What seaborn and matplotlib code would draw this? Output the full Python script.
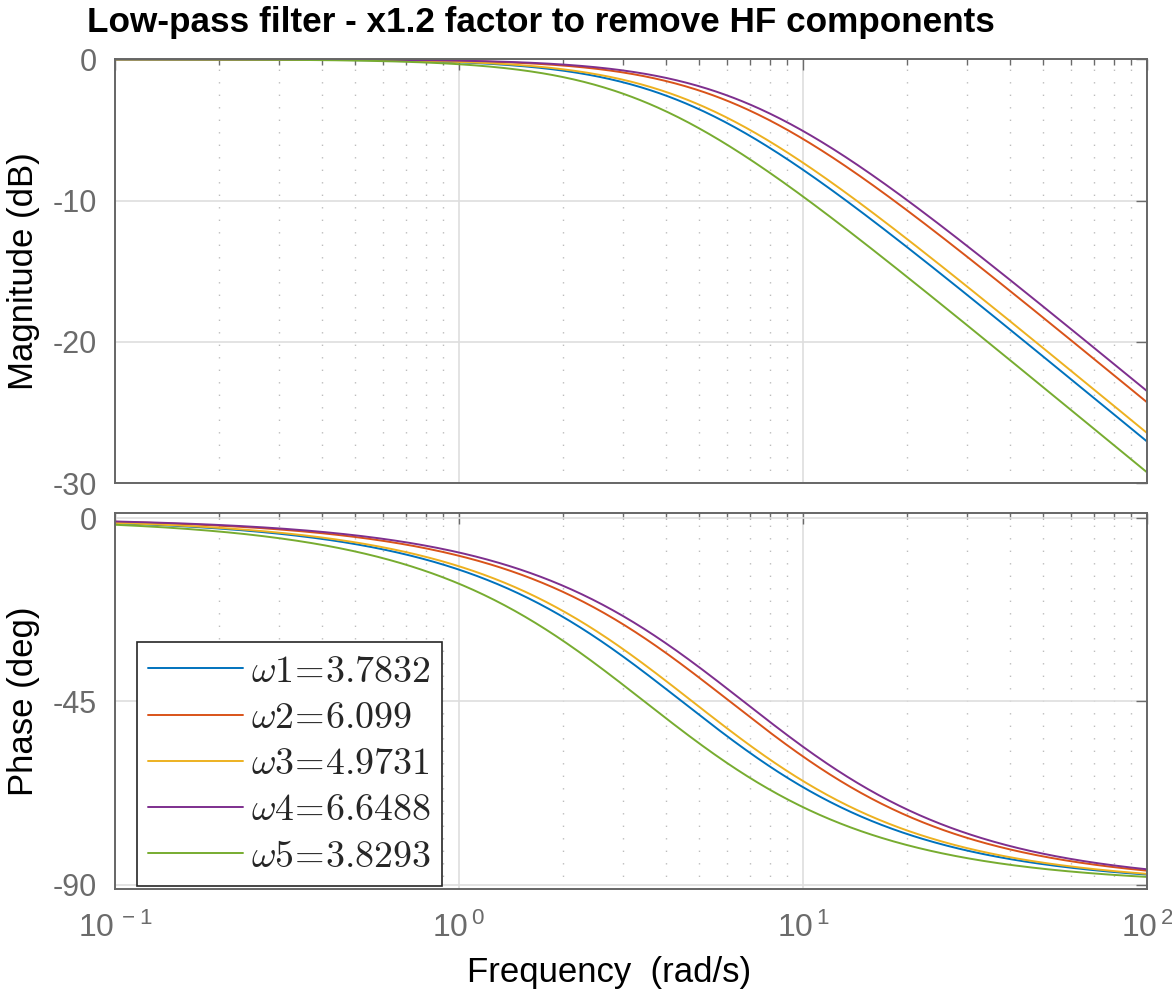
import numpy as np
import pandas as pd
import matplotlib
matplotlib.use("Agg")
import matplotlib.pyplot as plt
import seaborn as sns
from matplotlib.font_manager import FontProperties
from matplotlib.ticker import LogLocator, NullFormatter, FixedLocator, FuncFormatter

# ---- data ----
labels = [r"$\omega1\!=\!3.7832$", r"$\omega2\!=\!6.099$", r"$\omega3\!=\!4.9731$",
          r"$\omega4\!=\!6.6488$", r"$\omega5\!=\!3.8293$"]
corner_freqs = [4.45, 6.13, 4.77, 6.72, 3.46]
colors = ["#0072BD", "#D95319", "#EDB120", "#7E2F8E", "#77AC30"]
mag_ticks = [0, -10, -20, -30]
phase_ticks = [0, -45, -90]
freq_range = [0.1, 100.0]

# ---- build long table from first-order low-pass responses ----
w = np.logspace(np.log10(freq_range[0]), np.log10(freq_range[1]), 600)
rows = []
for lab, wc in zip(labels, corner_freqs):
    H = 1.0 / (1.0 + 1j * w / wc)
    rows.append(pd.DataFrame({"w": w,
                              "mag": 20 * np.log10(np.abs(H)),
                              "phase": np.degrees(np.angle(H)),
                              "series": lab}))
df = pd.concat(rows, ignore_index=True)

sns.set_theme(style="white")
plt.rcParams["font.family"] = ["Liberation Sans", "DejaVu Sans"]
plt.rcParams["axes.unicode_minus"] = False

fig = plt.figure(figsize=(11.72, 9.93), dpi=100)
W, Hh = 1172, 993
def axrect(l, r, t, b):
    return [l / W, 1 - b / Hh, (r - l) / W, (b - t) / Hh]

ax1 = fig.add_axes(axrect(115, 1147, 59.3, 483.3))
ax2 = fig.add_axes(axrect(115, 1147, 512.7, 889.3))

pal = dict(zip(labels, colors))
sns.lineplot(data=df, x="w", y="mag", hue="series", palette=pal, ax=ax1,
             linewidth=1.4, legend=False)
sns.lineplot(data=df, x="w", y="phase", hue="series", palette=pal, ax=ax2,
             linewidth=1.4, legend=True)

def pow_fmt(v, pos):
    e = int(round(np.log10(v)))
    return r"$\mathdefault{10^{\,%d}}$" % e

tick_gray = "#6b6b6b"
for ax in (ax1, ax2):
    ax.set_xscale("log")
    ax.set_xlim(*freq_range)
    ax.xaxis.set_major_locator(LogLocator(base=10, numticks=10))
    ax.xaxis.set_major_formatter(FuncFormatter(pow_fmt))
    ax.xaxis.set_minor_locator(LogLocator(base=10, subs=np.arange(2, 10), numticks=20))
    ax.xaxis.set_minor_formatter(NullFormatter())
    ax.grid(True, which="major", color="#dedede", linewidth=1.2, linestyle="-")
    ax.grid(True, which="minor", axis="x", color="#bdbdbd", linewidth=1.0,
            linestyle=(0, (1, 8)))
    ax.tick_params(which="both", direction="in", top=True, right=True,
                   colors=tick_gray, labelsize=22, pad=10)
    ax.tick_params(axis="y", which="major", pad=13)
    ax.tick_params(which="major", length=8, width=1.0)
    ax.tick_params(which="minor", length=4.5, width=1.0)
    for s in ax.spines.values():
        s.set_color("#666666")
        s.set_linewidth(1.4)
    ax.set_axisbelow(True)

ax1.set_ylim(-30, 0)
ax1.yaxis.set_major_locator(FixedLocator(mag_ticks))
ax1.set_xticklabels([])
ax1.set_xlabel("")
ax1.set_ylabel("Magnitude (dB)", fontsize=25, color="black", labelpad=9)

ax2.set_ylim(-91.06, 1.3)
ax2.yaxis.set_major_locator(FixedLocator(phase_ticks))
ax2.set_ylabel("Phase (deg)", fontsize=25, color="black", labelpad=9)
ax2.set_xlabel("Frequency  (rad/s)", fontsize=25, color="black")
ax2.xaxis.set_label_coords(0.479, -0.178)
ax2.tick_params(axis="x", which="major", pad=17, labelsize=23)

leg_font = FontProperties(size=27.3, math_fontfamily="cm")
leg = ax2.legend(loc="lower left", bbox_to_anchor=(0.0213, 0.0088),
                 borderaxespad=0, prop=leg_font, frameon=True, fancybox=False,
                 edgecolor="#262626", framealpha=1, handlelength=2.5,
                 labelspacing=0.27, handletextpad=0.2, borderpad=0.3)
leg.get_frame().set_linewidth(1.2)
for ln in leg.get_lines():
    ln.set_linewidth(1.4)

fig.text(87 / W, 1 - 32 / Hh, "Low-pass filter - x1.2 factor to remove HF components",
         fontsize=25.3, fontweight="bold", ha="left", va="baseline", color="black")

fig.savefig("out.png", dpi=100)
